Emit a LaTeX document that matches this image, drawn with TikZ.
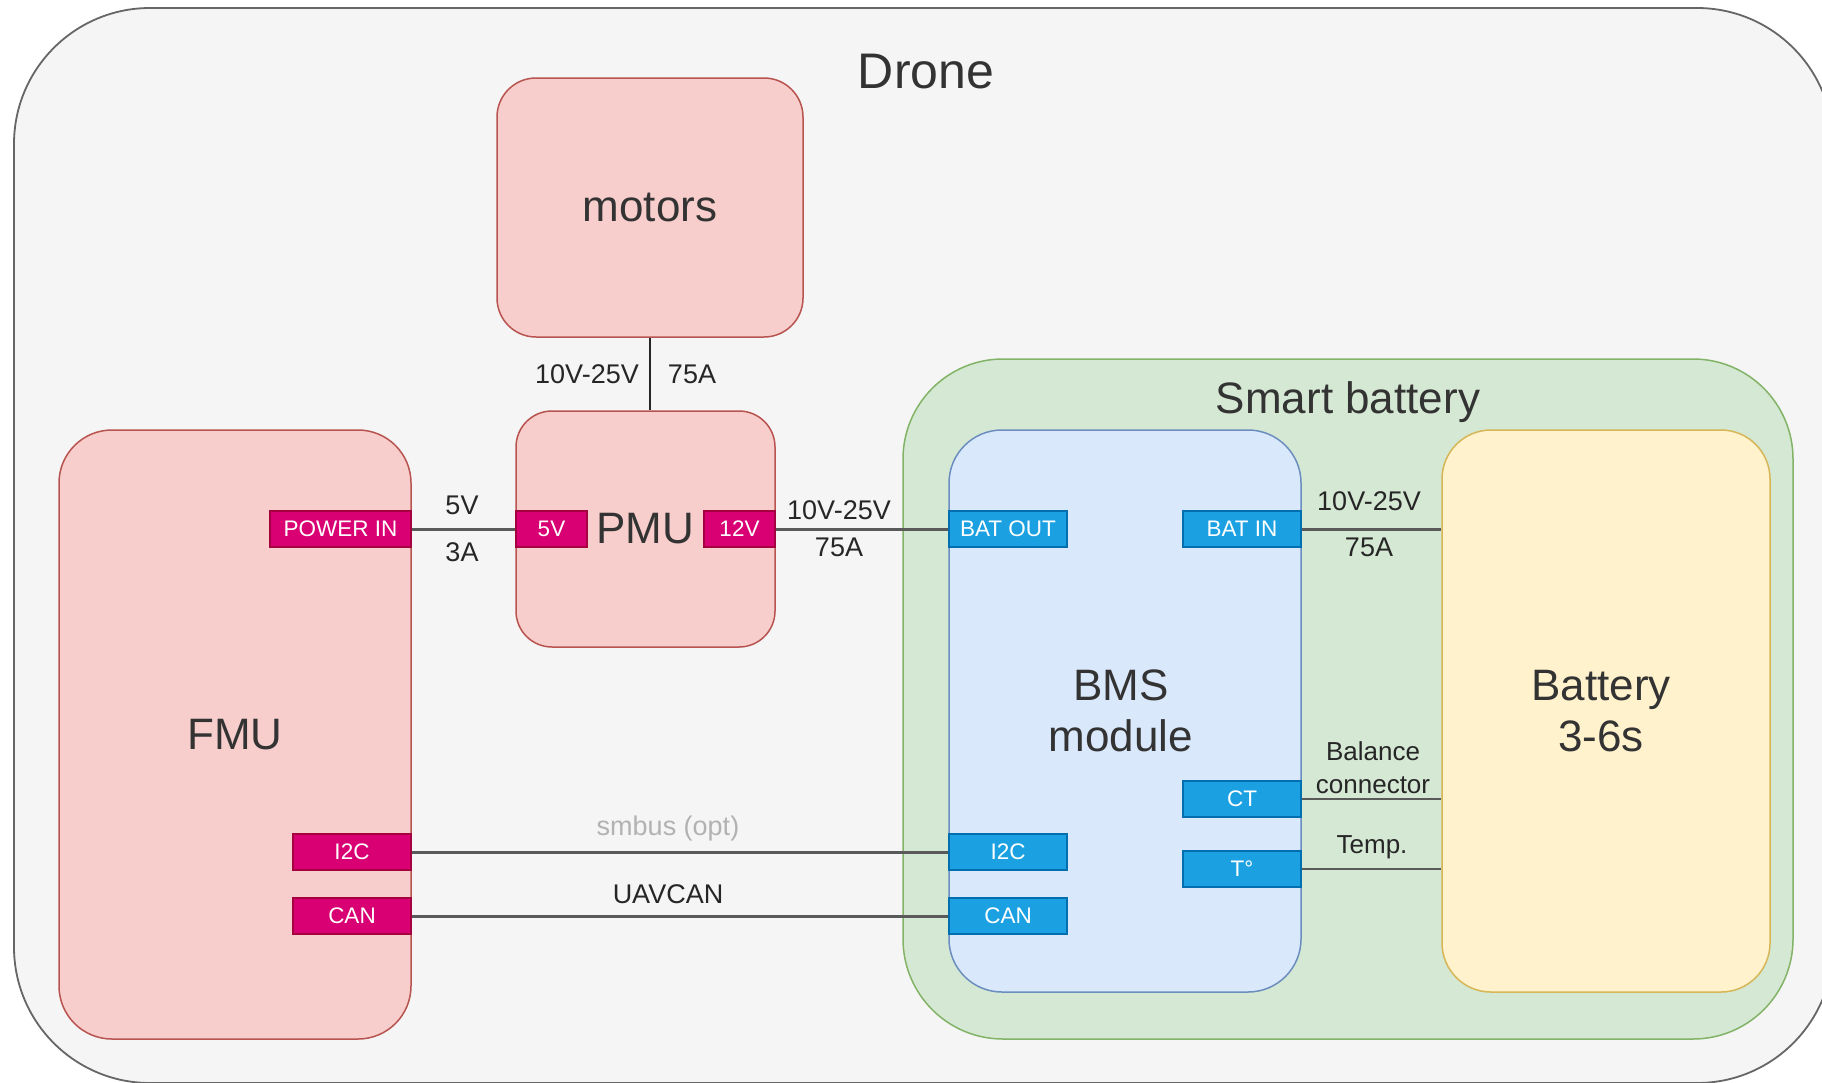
\documentclass[tikz,border=0pt]{standalone}
\usepackage{fontspec}
\setmainfont{Liberation Sans}
\definecolor{pinkfill}{HTML}{F8CECC}
\definecolor{pinkdraw}{HTML}{B85450}
\definecolor{magfill}{HTML}{D80073}
\definecolor{magdraw}{HTML}{A50040}
\definecolor{greenfill}{HTML}{D5E8D4}
\definecolor{greendraw}{HTML}{82B366}
\definecolor{bluefill}{HTML}{DAE8FC}
\definecolor{bluedraw}{HTML}{6C8EBF}
\definecolor{cyanfill}{HTML}{1BA1E2}
\definecolor{cyandraw}{HTML}{006EAF}
\definecolor{yelfill}{HTML}{FFF2CC}
\definecolor{yeldraw}{HTML}{D6B656}
\definecolor{dronefill}{HTML}{F5F5F5}
\definecolor{dronedraw}{HTML}{666666}
\definecolor{txt}{HTML}{333333}
\definecolor{wire}{HTML}{5A5A5A}
\begin{document}
\begin{tikzpicture}[x=1pt,y=-1pt,
  bigtext/.style={font=\fontsize{44}{51}\selectfont, text=txt, align=center},
  pinkbox/.style={draw=pinkdraw, fill=pinkfill, line width=1.5pt, bigtext},
  magport/.style={draw=magdraw, fill=magfill, line width=1.2pt, text=white, inner sep=0pt,
     minimum height=36, font=\fontsize{22.5}{25}\selectfont},
  cyanport/.style={draw=cyandraw, fill=cyanfill, line width=1.2pt, text=white, inner sep=0pt,
     minimum height=36, font=\fontsize{22.5}{25}\selectfont},
  lbl/.style={font=\fontsize{27}{33}\selectfont, text=black!85, align=center, inner sep=0pt},
  wireline/.style={draw=wire, line width=3pt}
]
\useasboundingbox (0,0) rectangle (1822,1082);
\clip (0,0) rectangle (1822,1082);
\fill[white] (0,0) rectangle (1822,1082);
% Drone outer box
\draw[fill=dronefill, draw=dronedraw, line width=1.8pt, rounded corners=136] (14,8) rectangle (1833,1083);
\node[font=\fontsize{50}{58}\selectfont, text=txt] (dronelbl) at (926,72) {Drone};

% Smart battery container
\node[draw=greendraw, fill=greenfill, line width=1.5pt, rounded corners=100,
      minimum width=890, minimum height=680] (smart) at (1348,699) {};
\node[bigtext] (smartlbl) at (1348,402) {Smart battery};

% main boxes
\node[pinkbox, rounded corners=39, minimum width=306, minimum height=259] (motors) at (650,207.5) {motors};
\node[pinkbox, rounded corners=36, minimum width=259, minimum height=236] (pmu) at (645.5,529) {PMU};
\node[pinkbox, rounded corners=53, minimum width=352, minimum height=609] (fmu) at (235,734.5) {FMU};
\node[draw=bluedraw, fill=bluefill, line width=1.5pt, rounded corners=53,
      minimum width=352, minimum height=562] (bms) at (1125,711) {};
\node[bigtext] (bmslbl) at (1121,711) {BMS\\module};
\node[draw=yeldraw, fill=yelfill, line width=1.5pt, rounded corners=49,
      minimum width=328, minimum height=562] (bat) at (1606,711) {};
\node[bigtext] (batlbl) at (1601,711) {Battery\\3-6s};

% connectors
\draw[black!85, line width=1.5pt] (motors.south) -- (motors.south |- pmu.north);
\node[lbl] (l1) at (587,374) {10V-25V};
\node[lbl] (l2) at (692,374) {75A};

% ports
\node[magport, minimum width=141] (pwrin) at (340.5,529) {POWER IN};
\node[magport, minimum width=71] (p5v) at (551.5,529) {5V};
\node[magport, minimum width=71] (p12v) at (739.5,529) {12V};
\node[magport, minimum width=118] (fi2c) at (352,852) {I2C};
\node[magport, minimum width=118] (fcan) at (352,916) {CAN};
\node[cyanport, minimum width=118] (batout) at (1008,529) {BAT OUT};
\node[cyanport, minimum width=118] (batin) at (1242,529) {BAT IN};
\node[cyanport, minimum width=118] (ct) at (1242,799) {CT};
\node[cyanport, minimum width=118] (temp) at (1242,869) {T°};
\node[cyanport, minimum width=118] (bi2c) at (1008,852) {I2C};
\node[cyanport, minimum width=118] (bcan) at (1008,916) {CAN};

\draw[wireline] (pwrin.east) -- (p5v.west);
\node[lbl] (l3) at (462,505) {5V};
\node[lbl] (l4) at (462,552) {3A};

\draw[wireline] (p12v.east) -- (batout.west);
\node[lbl] (l5) at (839,510) {10V-25V};
\node[lbl] (l6) at (839,547) {75A};

\draw[wireline] (batin.east) -- (batin.east -| bat.west);
\node[lbl] (l7) at (1369,501) {10V-25V};
\node[lbl] (l8) at (1369,547) {75A};

\draw[wireline, line width=2.5pt] (ct.east) -- (ct.east -| bat.west);
\node[lbl, font=\fontsize{26}{33}\selectfont] (l9) at (1373,768) {Balance\\connector};

\draw[wireline, line width=2.5pt] (temp.east) -- (temp.east -| bat.west);
\node[lbl, font=\fontsize{26}{33}\selectfont] (l10) at (1372,847) {Temp.};

\draw[wireline] (fi2c.east) -- (bi2c.west);
\node[lbl, text=black!30] (l11) at (668,829) {smbus (opt)};

\draw[wireline] (fcan.east) -- (bcan.west);
\node[lbl] (l12) at (668,894) {UAVCAN};
\end{tikzpicture}
\end{document}
